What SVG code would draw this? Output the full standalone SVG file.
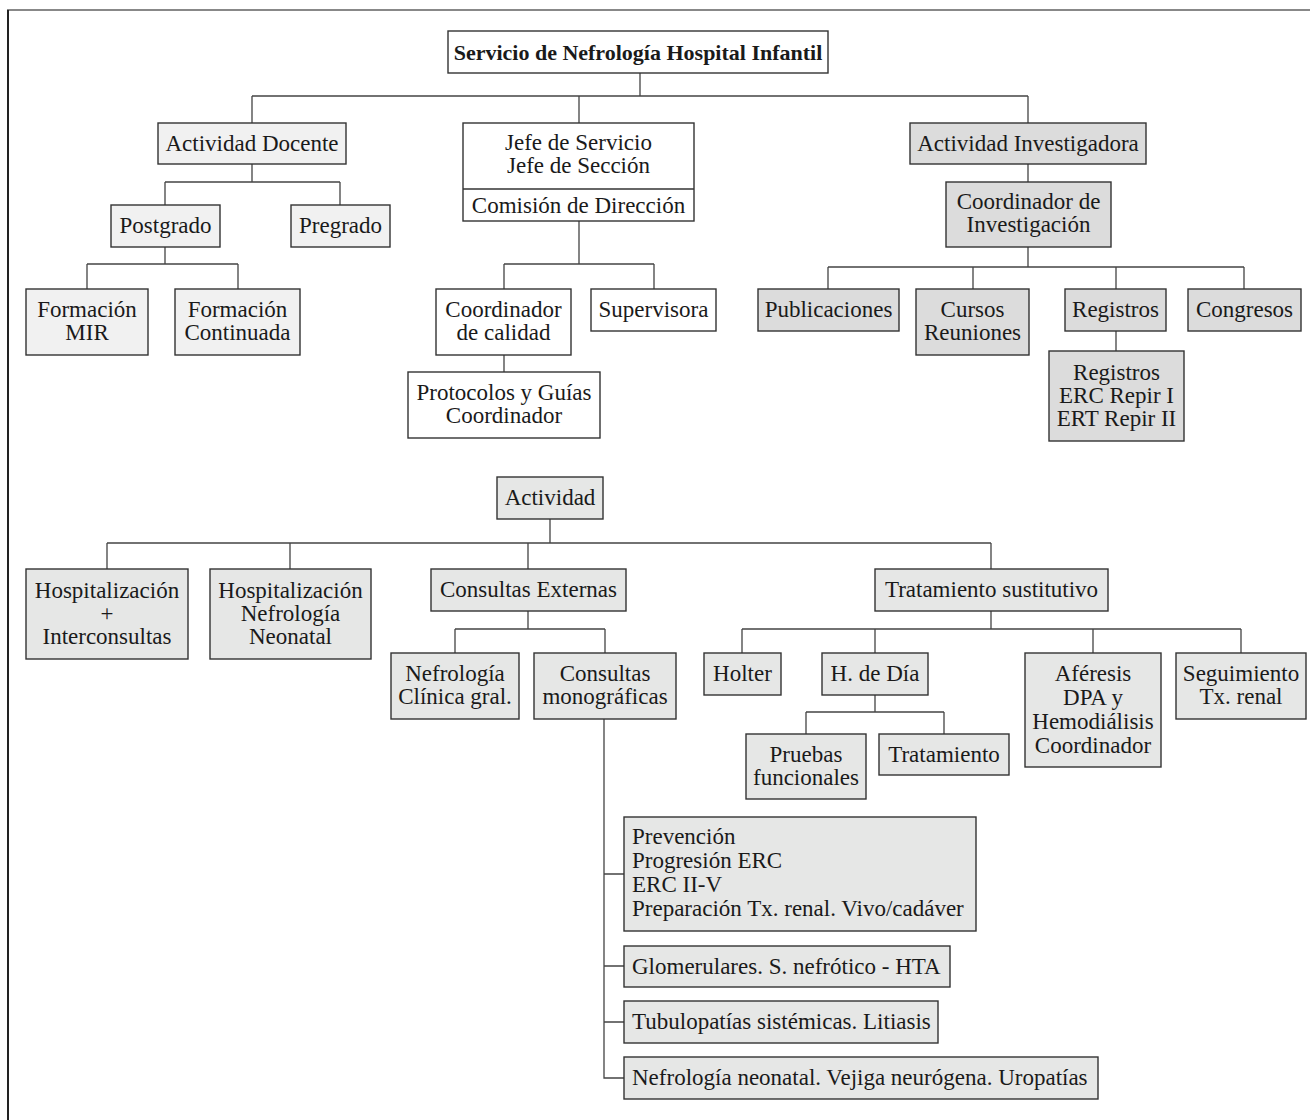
<svg xmlns="http://www.w3.org/2000/svg" width="1310" height="1120" viewBox="0 0 1310 1120">
<style>
rect{stroke:#333;stroke-width:1.4}
.w{fill:#fff}
.d{fill:#f1f1f1}
.i{fill:#dcdcdc}
.a{fill:#e6e7e6}
text{font-family:"Liberation Serif",serif;font-size:23px;fill:#1a1a1a;text-anchor:middle}
.b{font-weight:bold;font-size:22px}
.l{text-anchor:start}
#connectors path{fill:none;stroke:#444;stroke-width:1.3}
</style>
<g id="frame">
<line x1="7" y1="10" x2="1310" y2="10" stroke="#888" stroke-width="2"/>
<line x1="8" y1="10" x2="8" y2="1120" stroke="#222" stroke-width="2"/>
</g>
<g id="connectors">
<path d="M640,73V96M252,96H1028M252,96V123M579,96V123M1028,96V123M1028,164V182"/>
<path d="M252,164V182M165,182H340M165,182V205M340,182V205"/>
<path d="M165,247V264M87,264H238M87,264V289M238,264V289"/>
<path d="M579,221V264M504,264H654M504,264V289M654,264V289M504,355V372"/>
<path d="M1028,247V267M828,267H1244M828,267V289M973,267V289M1116,267V289M1244,267V289M1116,331V351"/>
<path d="M550,519V543M107,543H991M107,543V569M290,543V569M528,543V569M991,543V569"/>
<path d="M528,611V629M455,629H605M455,629V653M605,629V653"/>
<path d="M991,611V629M742,629H1241M742,629V653M875,629V653M1093,629V653M1241,629V653"/>
<path d="M875,695V712M806,712H944M806,712V734M944,712V734"/>
<path d="M604,719V1078H624M604,874H624M604,966H624M604,1022H624"/>
</g>
<g id="root"><rect class="w" x="448" y="31" width="380" height="42"/><text class="b" x="638" y="60">Servicio de Nefrología Hospital Infantil</text></g>
<g id="docente"><rect class="d" x="158" y="123" width="188" height="41"/><text x="252" y="151">Actividad Docente</text></g>
<g id="jefe"><rect class="w" x="463" y="123" width="231" height="98"/><line x1="463" y1="189" x2="694" y2="189" stroke="#333" stroke-width="1.4"/><text x="578.5" y="150">Jefe de Servicio</text><text x="578.5" y="173">Jefe de Sección</text><text x="578.5" y="213">Comisión de Dirección</text></g>
<g id="investigadora"><rect class="i" x="910" y="123" width="236" height="41"/><text x="1028" y="151">Actividad Investigadora</text></g>
<g id="coord-inv"><rect class="i" x="946" y="182" width="165" height="65"/><text x="1028.5" y="209">Coordinador de</text><text x="1028.5" y="232">Investigación</text></g>
<g id="postgrado"><rect class="d" x="111" y="205" width="109" height="42"/><text x="165.5" y="233">Postgrado</text></g>
<g id="pregrado"><rect class="d" x="291" y="205" width="99" height="42"/><text x="340.5" y="233">Pregrado</text></g>
<g id="mir"><rect class="d" x="26" y="289" width="122" height="66"/><text x="87" y="317">Formación</text><text x="87" y="340">MIR</text></g>
<g id="continuada"><rect class="d" x="175" y="289" width="125" height="66"/><text x="237.5" y="317">Formación</text><text x="237.5" y="340">Continuada</text></g>
<g id="calidad"><rect class="w" x="436" y="289" width="135" height="66"/><text x="503.5" y="317">Coordinador</text><text x="503.5" y="340">de calidad</text></g>
<g id="supervisora"><rect class="w" x="591" y="289" width="125" height="42"/><text x="653.5" y="317">Supervisora</text></g>
<g id="protocolos"><rect class="w" x="408" y="372" width="192" height="66"/><text x="504" y="400">Protocolos y Guías</text><text x="504" y="423">Coordinador</text></g>
<g id="publicaciones"><rect class="i" x="758" y="289" width="141" height="42"/><text x="828.5" y="317">Publicaciones</text></g>
<g id="cursos"><rect class="i" x="916" y="289" width="113" height="66"/><text x="972.5" y="317">Cursos</text><text x="972.5" y="340">Reuniones</text></g>
<g id="registros"><rect class="i" x="1065" y="289" width="101" height="42"/><text x="1115.5" y="317">Registros</text></g>
<g id="congresos"><rect class="i" x="1188" y="289" width="113" height="42"/><text x="1244.5" y="317">Congresos</text></g>
<g id="registros-erc"><rect class="i" x="1049" y="351" width="135" height="90"/><text x="1116.5" y="380">Registros</text><text x="1116.5" y="403">ERC Repir I</text><text x="1116.5" y="426">ERT Repir II</text></g>
<g id="actividad"><rect class="a" x="497" y="477" width="106" height="42"/><text x="550" y="505">Actividad</text></g>
<g id="hosp-inter"><rect class="a" x="26" y="569" width="162" height="90"/><text x="107" y="598">Hospitalización</text><text x="107" y="621">+</text><text x="107" y="644">Interconsultas</text></g>
<g id="hosp-neo"><rect class="a" x="210" y="569" width="161" height="90"/><text x="290.5" y="598">Hospitalización</text><text x="290.5" y="621">Nefrología</text><text x="290.5" y="644">Neonatal</text></g>
<g id="consultas-ext"><rect class="a" x="431" y="569" width="195" height="42"/><text x="528.5" y="597">Consultas Externas</text></g>
<g id="tratamiento-sust"><rect class="a" x="875" y="569" width="233" height="42"/><text x="991.5" y="597">Tratamiento sustitutivo</text></g>
<g id="nefro-clinica"><rect class="a" x="391" y="653" width="128" height="66"/><text x="455" y="681">Nefrología</text><text x="455" y="704">Clínica gral.</text></g>
<g id="monograficas"><rect class="a" x="534" y="653" width="142" height="66"/><text x="605" y="681">Consultas</text><text x="605" y="704">monográficas</text></g>
<g id="holter"><rect class="a" x="704" y="653" width="77" height="42"/><text x="742.5" y="681">Holter</text></g>
<g id="hdia"><rect class="a" x="822" y="653" width="106" height="42"/><text x="875" y="681">H. de Día</text></g>
<g id="aferesis"><rect class="a" x="1025" y="653" width="136" height="114"/><text x="1093" y="681">Aféresis</text><text x="1093" y="705">DPA y</text><text x="1093" y="729">Hemodiálisis</text><text x="1093" y="753">Coordinador</text></g>
<g id="seguimiento"><rect class="a" x="1176" y="653" width="130" height="66"/><text x="1241" y="681">Seguimiento</text><text x="1241" y="704">Tx. renal</text></g>
<g id="pruebas"><rect class="a" x="746" y="734" width="120" height="65"/><text x="806" y="762">Pruebas</text><text x="806" y="785">funcionales</text></g>
<g id="tratamiento"><rect class="a" x="879" y="734" width="130" height="41"/><text x="944" y="761.5">Tratamiento</text></g>
<g id="prevencion"><rect class="a" x="624" y="817" width="352" height="114"/><text class="l" x="632" y="844">Prevención</text><text class="l" x="632" y="868">Progresión ERC</text><text class="l" x="632" y="892">ERC II-V</text><text class="l" x="632" y="916">Preparación Tx. renal. Vivo/cadáver</text></g>
<g id="glomerulares"><rect class="a" x="624" y="946" width="326" height="41"/><text class="l" x="632" y="973.5">Glomerulares. S. nefrótico - HTA</text></g>
<g id="tubulopatias"><rect class="a" x="624" y="1001" width="314" height="42"/><text class="l" x="632" y="1029">Tubulopatías sistémicas. Litiasis</text></g>
<g id="neonatal"><rect class="a" x="624" y="1057" width="474" height="42"/><text class="l" x="632" y="1085">Nefrología neonatal. Vejiga neurógena. Uropatías</text></g>
</svg>
